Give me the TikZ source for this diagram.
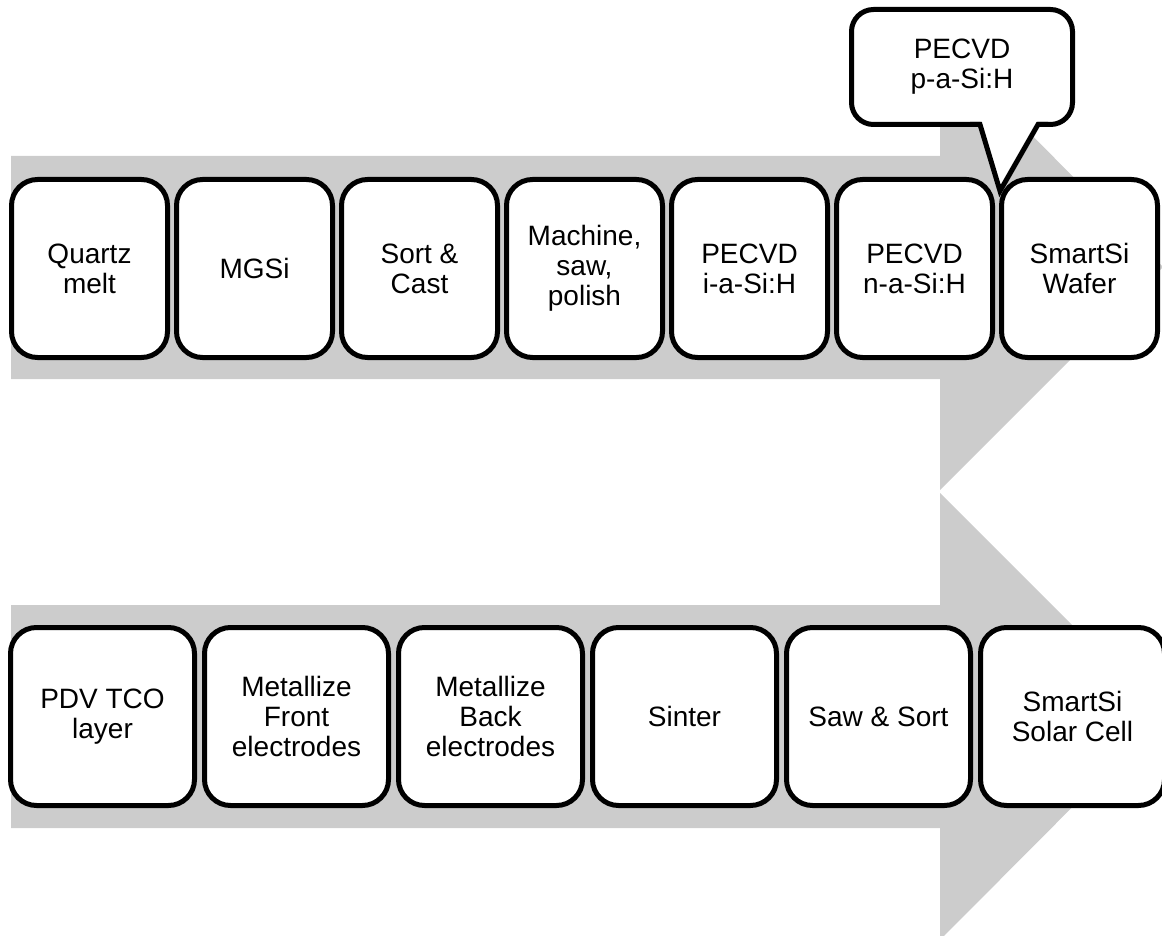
\documentclass[tikz,border=0pt]{standalone}
\usepackage{fontspec}
\setmainfont{Liberation Sans}
\definecolor{flowgray}{RGB}{204,204,204}

\begin{document}
\begin{tikzpicture}[x=1pt, y=-1pt,
    stepbox/.style={draw=black, line width=5pt, fill=white, rounded corners=26pt,
        align=center, inner sep=0pt, font=\fontsize{28}{30}\selectfont},
    topbox/.style={stepbox, minimum width=156pt, minimum height=178pt},
    lowbox/.style={stepbox, minimum width=184pt, minimum height=178pt}]
    \useasboundingbox (0,0) rectangle (1162,936);
    \clip (0,0) rectangle (1162,936);

    % Arrows
    \fill[flowgray] (11,156) -- (940,156) -- (940,43) -- (1163,267) -- (940,490)
        -- (940,379) -- (11,379) -- cycle;
    \fill[flowgray] (11,605) -- (940,605) -- (940,493) -- (1163,716) -- (940,940)
        -- (940,828) -- (11,828) -- cycle;

    % Row 1
    \node[topbox] (quartz) at (89.5,268.5) {Quartz\\melt};
    \node[topbox] (mgsi) at (254.5,268.5) {MGSi};
    \node[topbox] (sortcast) at (419.5,268.5) {Sort \&\\Cast};
    \node[topbox] (machine) at (584.5,268.5) {Machine,\\saw,\\polish};
    \node[topbox] (pecvdi) at (749.5,268.5) {PECVD\\i-a-Si:H};
    \node[topbox] (pecvdn) at (914.5,268.5) {PECVD\\n-a-Si:H};
    \node[topbox] (wafer) at (1079.5,268.5) {SmartSi\\Wafer};

    % Row 2
    \node[lowbox] (tco) at (102.5,716.5) {PDV TCO\\layer};
    \node[lowbox] (front) at (296.5,716.5) {Metallize\\Front\\electrodes};
    \node[lowbox] (back) at (490.5,716.5) {Metallize\\Back\\electrodes};
    \node[lowbox] (sinter) at (684.5,716.5) {Sinter};
    \node[lowbox] (sawsort) at (878.5,716.5) {Saw \& Sort};
    \node[lowbox] (cell) at (1072.5,716.5) {SmartSi\\Solar Cell};

    % Callout
    \node[stepbox, rounded corners=22pt, minimum width=221pt, minimum height=115pt]
        (pecvdp) at (962,67) {PECVD\\p-a-Si:H};
    \coordinate (ptip) at (1000,191);
    \fill[white] (981,120) -- (1037,120) -- (1038,124.5) -- (ptip) -- (980,124.5) -- cycle;
    \draw[line width=5pt] (970,124.5) -- (980,124.5) -- (ptip) -- (1038,124.5) -- (1048,124.5);
\end{tikzpicture}
\end{document}
